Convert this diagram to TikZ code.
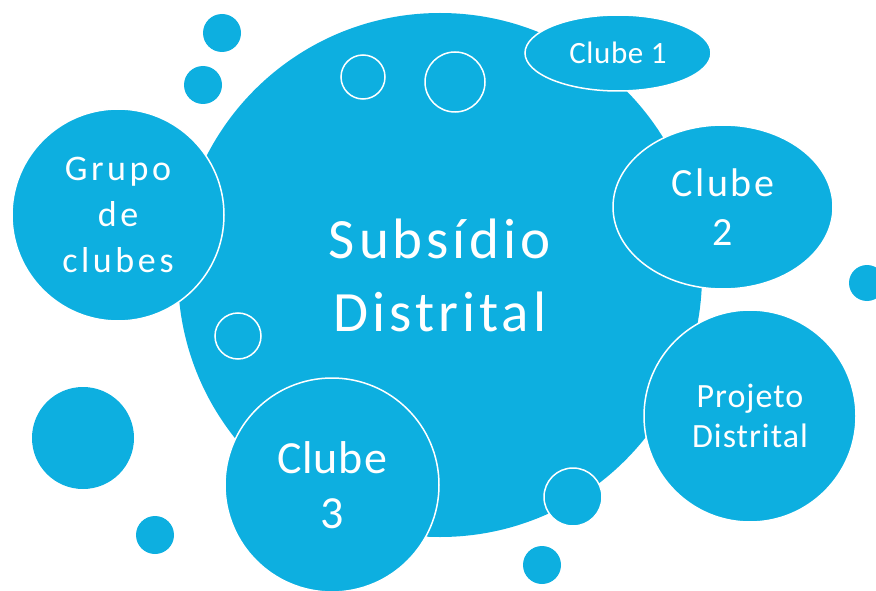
\documentclass[tikz,border=0pt]{standalone}
\usepackage{fontspec}
\setmainfont{Carlito}
\usetikzlibrary{shapes.geometric}
\definecolor{bubblecol}{RGB}{13,175,224}
\newcommand{\bubblefont}[3]{\fontsize{#1}{#2}\selectfont\addfontfeatures{LetterSpace=#3}}
\tikzset{
  bubble/.style={circle,fill=bubblecol,inner sep=0pt,text=white,align=center},
  rimmed/.style={bubble,draw=white,line width=1.5pt},
  oval/.style={ellipse,fill=bubblecol,draw=white,line width=1.5pt,inner sep=0pt,text=white,align=center},
  ring/.style={circle,draw=white,line width=1.5pt,inner sep=0pt}
}

\begin{document}
\begin{tikzpicture}[x=1pt,y=-1pt]
  \useasboundingbox (0,0) rectangle (876,591);

  % big bubble
  \node[bubble,minimum size=524pt] at(440,275)(main){};
  \node[ring,minimum size=44pt] at(363,77)(r1){};
  \node[ring,minimum size=60pt] at(455,82)(r2){};
  \node[ring,minimum size=46pt] at(238,336)(r3){};

  % loose dots
  \node[bubble,minimum size=38pt] at(222,33)(d1){};
  \node[bubble,minimum size=38pt] at(203,85)(d2){};
  \node[bubble,minimum size=102pt] at(83,438)(d3){};
  \node[bubble,minimum size=38pt] at(155,535)(d4){};
  \node[bubble,minimum size=38pt] at(542,565)(d5){};
  \node[bubble,minimum size=36pt] at(867,283)(d6){};
  \node[rimmed,minimum size=58pt] at(573,497)(d7){};

  % labelled bubbles
  \node[rimmed,minimum size=212pt,font=\bubblefont{36}{46}{10}] at(118,215)(grupo)
    {Grupo\\de\\clubes};
  \node[oval,minimum width=186pt,minimum height=76pt,font=\bubblefont{31}{36}{2}] at(618,53)(clube1)
    {Clube 1};
  \node[oval,minimum width=220pt,minimum height=164pt,font=\bubblefont{40}{49}{6}] at(723,207)(clube2)
    {Clube\\2};
  \node[rimmed,minimum size=212pt,font=\bubblefont{34}{40}{3}] at(750,416)(projeto)
    {Projeto\\Distrital};
  \node[rimmed,minimum size=214pt,font=\bubblefont{46}{55}{2}] at(332,485)(clube3)
    {Clube\\3};

  \node[text=white,align=center,font=\bubblefont{57}{73}{7}] at(main.center)(title)
    {Subsídio\\Distrital};

\end{tikzpicture}
\end{document}
